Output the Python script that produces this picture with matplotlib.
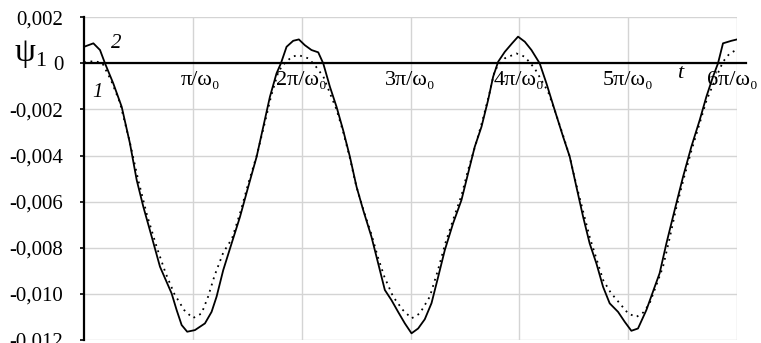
import numpy as np
import matplotlib.pyplot as plt

# time in units of pi/omega_0, psi_1 values
t_solid = [0.000, 0.086, 0.147, 0.193, 0.269, 0.346, 0.422, 0.484, 0.545, 0.622,
           0.698, 0.805, 0.851, 0.897, 0.948, 1.019, 1.111, 1.172, 1.218, 1.279,
           1.356, 1.433, 1.509, 1.586, 1.647, 1.708, 1.769, 1.809, 1.861, 1.922,
           1.974, 2.029, 2.090, 2.152, 2.198, 2.259, 2.320, 2.381, 2.443, 2.504,
           2.565, 2.641, 2.703, 2.764, 2.825, 2.886, 2.948, 3.009, 3.070, 3.131,
           3.193, 3.254, 3.315, 3.391, 3.468, 3.529, 3.590, 3.652, 3.713, 3.759,
           3.805, 3.866, 3.933, 3.988, 4.050, 4.111, 4.187, 4.249, 4.325, 4.402,
           4.463, 4.524, 4.586, 4.646, 4.708, 4.769, 4.830, 4.907, 4.968, 5.029,
           5.090, 5.167, 5.243, 5.289, 5.351, 5.427, 5.504, 5.580, 5.657, 5.718,
           5.779, 5.825, 5.871, 5.948, 6.000]
psi_solid = [0.72, 0.87, 0.58, 0.00, -0.87, -1.88, -3.47, -5.06, -6.22, -7.52,
             -8.82, -9.98, -10.70, -11.35, -11.64, -11.57, -11.28, -10.78, -10.12, -8.97,
             -7.81, -6.66, -5.35, -4.05, -2.75, -1.45, -0.43, 0.00, 0.72, 0.98,
             1.04, 0.79, 0.58, 0.48, 0.00, -1.01, -1.88, -2.90, -4.05, -5.35,
             -6.36, -7.52, -8.68, -9.83, -10.27, -10.78, -11.28, -11.71, -11.50, -11.10,
             -10.40, -9.26, -8.10, -6.94, -5.93, -4.77, -3.62, -2.75, -1.59, -0.58,
             0.07, 0.50, 0.87, 1.16, 0.94, 0.58, 0.00, -0.87, -2.03, -3.18,
             -4.05, -5.35, -6.66, -7.81, -8.68, -9.69, -10.41, -10.78, -11.21, -11.60,
             -11.50, -10.70, -9.70, -9.10, -7.81, -6.36, -4.92, -3.62, -2.46, -1.45,
             -0.58, 0.00, 0.87, 0.98, 1.04]

t_dot = [0.00, 0.10, 0.17, 0.25, 0.33, 0.42, 0.50, 0.58, 0.67, 0.75,
         0.83, 0.92, 1.00, 1.08, 1.14, 1.20, 1.28, 1.36, 1.44, 1.51,
         1.59, 1.66, 1.72, 1.78, 1.82, 1.91, 1.97, 2.06, 2.12, 2.20,
         2.26, 2.32, 2.38, 2.44, 2.50, 2.57, 2.64, 2.70, 2.76, 2.84,
         2.93, 3.01, 3.085, 3.177, 3.25, 3.32, 3.39, 3.47, 3.53, 3.60,
         3.66, 3.72, 3.774, 3.866, 3.973, 4.05, 4.141, 4.264, 4.33, 4.40,
         4.46, 4.52, 4.59, 4.65, 4.71, 4.77, 4.84, 4.922, 5.00, 5.075,
         5.14, 5.197, 5.26, 5.32, 5.38, 5.44, 5.51, 5.58, 5.65, 5.72,
         5.81, 5.871, 5.932, 5.993]
psi_dot = [0.05, 0.10, 0.00, -0.75, -1.70, -3.40, -5.10, -6.60, -8.00, -9.10,
           -10.00, -10.70, -11.05, -10.85, -10.12, -9.20, -8.20, -7.60, -6.40, -5.20,
           -3.95, -2.60, -1.40, -0.45, -0.10, 0.29, 0.36, 0.22, -0.07, -0.58,
           -1.30, -2.00, -2.95, -4.05, -5.30, -6.40, -7.40, -8.40, -9.26, -10.12,
           -10.70, -11.06, -10.85, -10.12, -9.00, -7.80, -6.80, -5.70, -4.60, -3.50,
           -2.50, -1.40, -0.29, 0.22, 0.43, 0.29, -0.22, -1.23, -2.10, -3.10,
           -4.00, -5.20, -6.50, -7.60, -8.50, -9.40, -9.95, -10.41, -10.85, -11.00,
           -10.80, -10.41, -9.60, -8.82, -7.60, -6.30, -5.00, -3.80, -2.70, -1.60,
           -0.58, 0.07, 0.43, 0.58]

y_ticks = [0.002, 0.0, -0.002, -0.004, -0.006, -0.008, -0.010, -0.012]
y_labels = ["0,002", "0", "-0,002", "-0,004", "-0,006", "-0,008", "-0,010", "-0,012"]
x_ticks = [1, 2, 3, 4, 5, 6]
x_labels = ["π/ω₀", "2π/ω₀", "3π/ω₀", "4π/ω₀", "5π/ω₀", "6π/ω₀"]

serif = ["Liberation Serif", "DejaVu Serif"]
plt.rcParams["font.family"] = serif

fig = plt.figure(figsize=(7.61, 3.43), dpi=100)
ax = fig.add_axes([0.1104, 0.0087, 0.8581, 0.9409])

ax.set_xlim(0, 6)
ax.set_ylim(-0.012, 0.002)

ax.set_xticks(x_ticks)
ax.set_xticklabels([])
ax.tick_params(axis="x", length=0)
ax.set_yticks(y_ticks)
ax.set_yticklabels(y_labels, fontsize=15)
ax.tick_params(axis="y", length=3, width=1.2, pad=12, color="black")
ax.grid(True, color="#d4d4d4", linewidth=1.0)
ax.set_axisbelow(True)

for s in ["top", "right", "bottom"]:
    ax.spines[s].set_visible(False)
ax.spines["left"].set_linewidth(1.6)

# x axis drawn through zero
ax.plot([0, 6.08], [0, 0], color="black", linewidth=1.6, clip_on=False, zorder=3)

ax.plot(t_solid, np.array(psi_solid) * 1e-3, color="black", linewidth=1.3, zorder=4,
        solid_joinstyle="round")
ax.plot(t_dot, np.array(psi_dot) * 1e-3, color="black", linewidth=1.3,
        linestyle=(0, (1, 2.6)), zorder=4)

for k, lab in zip(x_ticks, x_labels):
    dx = {1: 0.07, 6: -0.04}.get(k, 0.0)
    ax.text(k + dx, -0.00094, lab, ha="center", va="baseline", fontsize=16,
            family=serif, zorder=5)

ax.text(5.48, -0.00064, "t", ha="center", va="baseline", fontsize=16,
        style="italic", zorder=5)
ax.text(0.294, 0.00066, "2", ha="center", va="baseline", fontsize=15,
        style="italic", zorder=5)
ax.text(0.124, -0.00146, "1", ha="center", va="baseline", fontsize=15,
        style="italic", zorder=5)

# axis name psi_1 to the left
fig.text(15 / 761, 1 - 61 / 343, "ψ", fontsize=24, ha="left", va="baseline")
fig.text(35 / 761, 1 - 66 / 343, "1", fontsize=16, ha="left", va="baseline")

fig.savefig("out.png", dpi=100)
